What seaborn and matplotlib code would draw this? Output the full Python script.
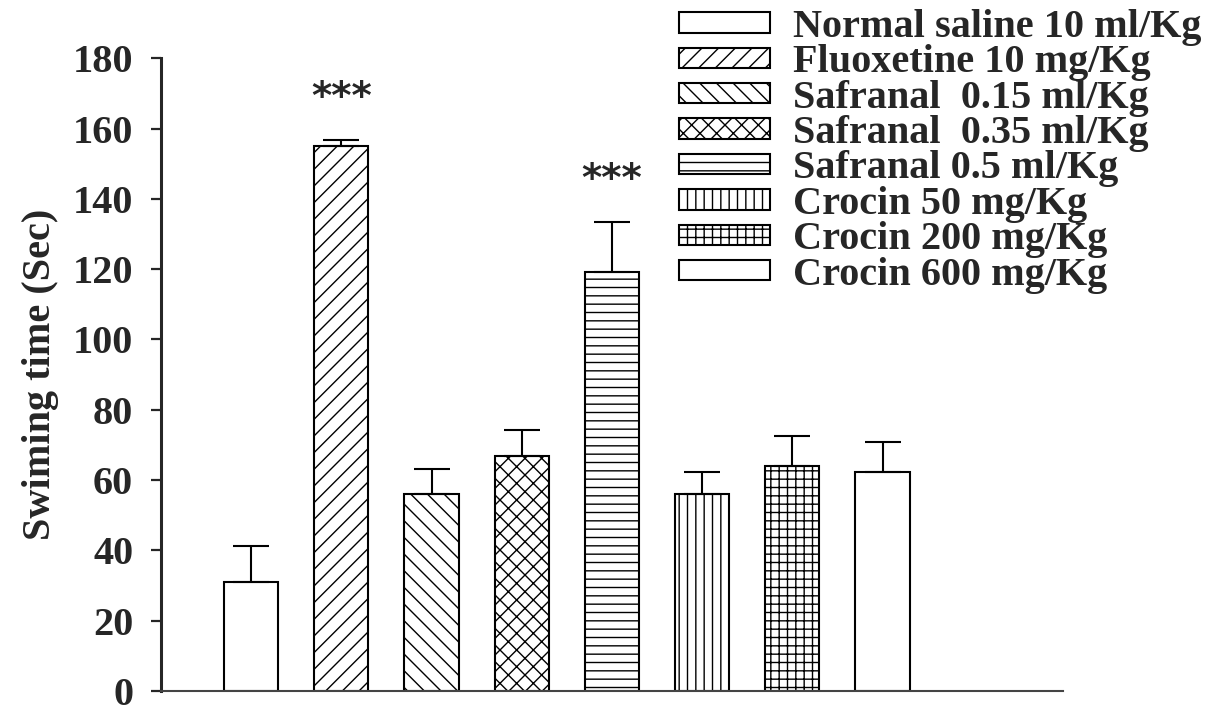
import numpy as np
import pandas as pd
import matplotlib
matplotlib.use("Agg")
import matplotlib.pyplot as plt
import seaborn as sns

# Treatment groups, mean swimming time and SEM (seconds)
groups = [
    "Normal saline 10 ml/Kg",
    "Fluoxetine 10 mg/Kg",
    "Safranal  0.15 ml/Kg",
    "Safranal  0.35 ml/Kg",
    "Safranal 0.5 ml/Kg",
    "Crocin 50 mg/Kg",
    "Crocin 200 mg/Kg",
    "Crocin 600 mg/Kg",
]
means = [31.0, 155.0, 56.0, 66.8, 119.3, 56.0, 64.0, 62.4]
sems = [10.3, 1.8, 7.1, 7.5, 14.2, 6.4, 8.5, 8.4]
significance = ["", "***", "", "", "***", "", "", ""]
yticks = [0, 20, 40, 60, 80, 100, 120, 140, 160, 180]

hatches = ["", "//", "\\\\", "xx", "--", "||", "++", ""]

sns.set_style("ticks")
plt.rcParams["font.family"] = ["Liberation Serif", "DejaVu Serif"]
plt.rcParams["font.weight"] = "bold"
plt.rcParams["hatch.linewidth"] = 1.0
plt.rcParams["hatch.color"] = "black"

df = pd.DataFrame({"group": groups, "mean": means, "sem": sems})

fig = plt.figure(figsize=(12.12, 7.08), dpi=100)
ax = fig.add_axes([0.1328, 0.024, 0.7442, 0.8937])

sns.barplot(
    data=df, x="group", y="mean", order=groups, color="white",
    saturation=1, edgecolor="black", linewidth=1.5, width=0.6,
    errorbar=None, ax=ax,
)

bars = list(ax.patches)
for bar, h in zip(bars, hatches):
    bar.set_hatch(h)
    bar.set_facecolor("white")
    bar.set_edgecolor("black")

pos = np.arange(len(groups))
ax.errorbar(
    pos, means, yerr=[np.zeros(len(sems)), sems], fmt="none",
    ecolor="black", elinewidth=1.5, capsize=13, capthick=1.5, zorder=3,
)

# significance marks above the error bars
for x, m, s, sig in zip(pos, means, sems, significance):
    if sig:
        ax.text(x, m + s + 12, sig, ha="center", va="center",
                fontsize=28, fontweight="bold", family="DejaVu Sans")

ax.set_xlim(-1, 9)
ax.set_ylim(0, 180)
ax.set_yticks(yticks)
ax.set_yticklabels([str(t) for t in yticks], fontsize=29, fontweight="bold")
ax.set_xticks([])
ax.set_xlabel("")
ax.set_ylabel("Swiming time (Sec)", fontsize=29, fontweight="bold", labelpad=10)

ax.tick_params(axis="y", length=7, width=1.6, pad=13, direction="out")
for side in ("top", "right"):
    ax.spines[side].set_visible(False)
ax.spines["left"].set_linewidth(2.2)
ax.spines["bottom"].set_linewidth(1.5)
ax.spines["bottom"].set_color("#444444")

leg = ax.legend(
    bars, groups, loc="upper left", bbox_to_anchor=(0.5602, 0.9875),
    bbox_transform=fig.transFigure, frameon=False, fontsize=29,
    handlelength=2.26, handleheight=0.40, handletextpad=0.57,
    labelspacing=-0.04, borderpad=0, borderaxespad=0,
)
for t in leg.get_texts():
    t.set_fontweight("bold")

fig.savefig("out.png", dpi=100)
